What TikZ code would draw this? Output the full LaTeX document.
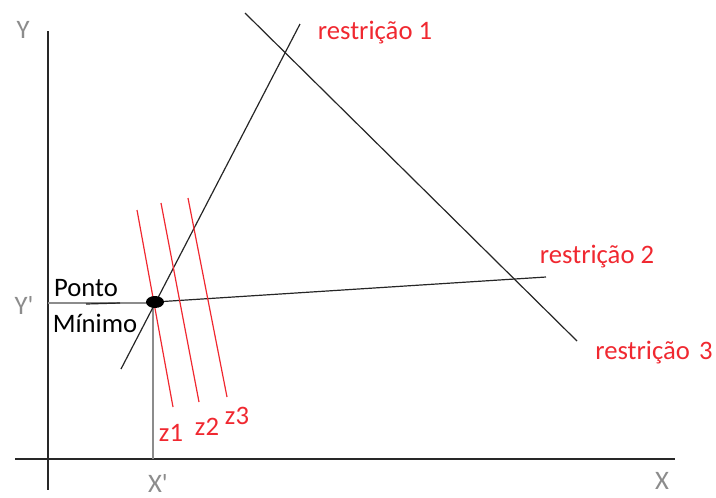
\documentclass[tikz,border=0pt]{standalone}
\usepackage{fontspec}
\setmainfont{Carlito}[Ligatures=TeXOff]
\definecolor{lred}{RGB}{240,40,48}
\definecolor{lgray}{RGB}{140,140,140}
\definecolor{axis}{RGB}{40,40,40}
\begin{document}
\begin{tikzpicture}[x=0.75pt,y=-0.75pt,
  lbl/.style={font=\fontsize{20}{24}\selectfont,inner sep=0pt},
  redlbl/.style={lbl,text=lred},
  graylbl/.style={lbl,text=lgray},
  axisline/.style={draw=axis,line width=1.5pt},
  constraint/.style={draw=black!85,line width=0.9pt},
  zline/.style={draw=lred,line width=0.9pt},
  guide/.style={draw=lgray,line width=0.8pt}]
\useasboundingbox (0,0) rectangle (716,497);
% axes
\coordinate (ytop) at (48,31);
\coordinate (ybot) at (48,490);
\coordinate (xl) at (15,459);
\coordinate (xr) at (675,459);
\draw[axisline] (ytop) -- (ybot);
\draw[axisline] (xl) -- (xr);
\node[graylbl] (Y) at (23,30) {Y};
\node[graylbl] (X) at (662,481) {X};
% guide lines
\coordinate (P) at (155,302);
\coordinate (gy) at (48,303);
\coordinate (gx) at (153,459);
\coordinate (gp) at (153,303);
\draw[guide] (gy) -- (gp) -- (gx);
\node[graylbl] (Yp) at (24,305) {Y'};
\node[graylbl] (Xp) at (158,483) {X'};
% constraints
\coordinate (r1a) at (121,369);
\coordinate (r1b) at (300,24);
\coordinate (r3a) at (245,13);
\coordinate (r3b) at (577,341);
\coordinate (r2b) at (546,277);
\draw[constraint] (r1a) -- (r1b);
\draw[constraint] (r3a) -- (r3b);
\draw[constraint] (P) -- (r2b);
\coordinate (da) at (86,304);
\coordinate (db) at (120,303);
\draw[constraint] (da) -- (db);
% z lines
\coordinate (z1a) at (137,210); \coordinate (z1b) at (173,407);
\coordinate (z2a) at (161,203); \coordinate (z2b) at (199,402);
\coordinate (z3a) at (188,198); \coordinate (z3b) at (227,397);
\draw[zline] (z1a) -- (z1b);
\draw[zline] (z2a) -- (z2b);
\draw[zline] (z3a) -- (z3b);
% point
\fill[black] (P) ellipse [x radius=9, y radius=6];
% labels
\node[redlbl] (l1) at (375,33) {restrição 1};
\node[redlbl] (l2) at (597,257) {restrição 2};
\node[redlbl] (l3) at (654,353) {restrição\hspace{0.35em}3};
\node[redlbl] (z1) at (171,433) {z1};
\node[redlbl] (z2) at (207,427) {z2};
\node[redlbl] (z3) at (237,416) {z3};
\node[lbl] (ponto) at (86,288) {Ponto};
\node[lbl] (minimo) at (95,323) {Mínimo};
\end{tikzpicture}
\end{document}
